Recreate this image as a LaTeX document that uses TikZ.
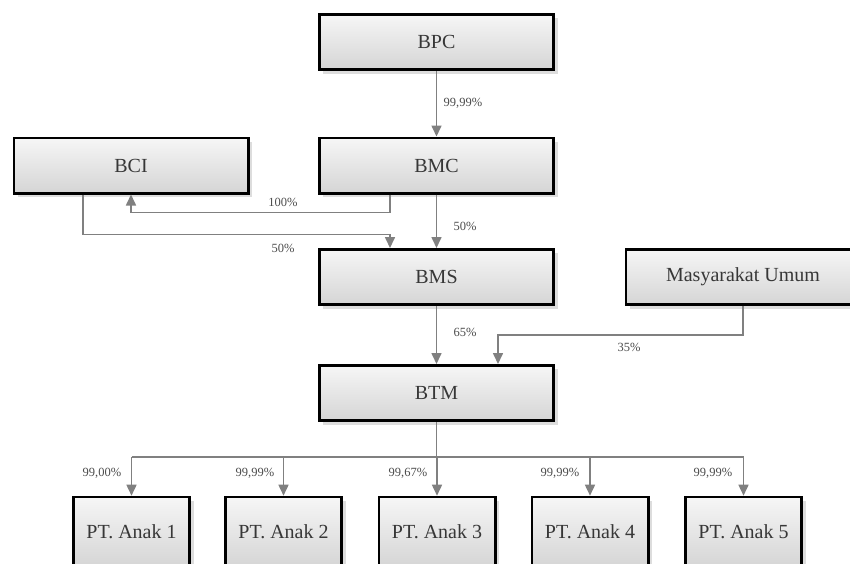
\documentclass[tikz,border=0pt]{standalone}
\usepackage{fontspec}
\setmainfont{Liberation Serif}
\usetikzlibrary{arrows.meta,calc,shadows}
\definecolor{linegray}{RGB}{128,128,128}
\definecolor{txtgray}{RGB}{55,55,55}
\begin{document}
\begin{tikzpicture}[x=1pt,y=-1pt,
  box/.style={draw=black, line width=2.6pt, top color=gray!7, bottom color=gray!33,
    minimum width=234.4pt, minimum height=55.4pt, inner sep=0pt,
    font=\fontsize{20}{23}\selectfont, text=txtgray,
    drop shadow={shadow xshift=4pt, shadow yshift=-4pt, fill=black!22, opacity=0.6}},
  ptbox/.style={box, minimum width=116.4pt, minimum height=70pt},
  conn/.style={draw=linegray, line width=1.6pt, -{Triangle[width=10pt,length=11pt]}},
  plain/.style={draw=linegray, line width=1.6pt},
  lbl/.style={font=\fontsize{12.5}{14}\selectfont, text=black!70, inner sep=0pt}]
\path[use as bounding box, clip] (0,0) rectangle (850,563);
\fill[white] (0,0) rectangle (850,563);

% boxes
\node[box] (BPC) at (436.5,42) {BPC};
\node[box] (BMC) at (436.5,165.5) {BMC};
\node[box] (BCI) at (131,165.5) {BCI};
\node[box] (BMS) at (436.5,277) {BMS};
\node[box] (MU)  at (743,277) {Masyarakat Umum};
\node[box] (BTM) at (436.5,393) {BTM};
\node[ptbox] (PT1) at (131.5,532) {PT. Anak 1};
\node[ptbox] (PT2) at (283.5,532) {PT. Anak 2};
\node[ptbox] (PT3) at (437,532) {PT. Anak 3};
\node[ptbox] (PT4) at (590,532) {PT. Anak 4};
\node[ptbox] (PT5) at (743.5,532) {PT. Anak 5};

% connectors
\draw[conn] (BPC.south) -- (BMC.north);
\draw[conn] ([xshift=-46.5pt]BMC.south) -- ++(0,18) -| (BCI.south);
\draw[conn] ([xshift=-48pt]BCI.south) -- ++(0,40) -| ([xshift=-46.5pt]BMS.north);
\draw[conn] (BMC.south) -- (BMS.north);
\draw[conn] (BMS.south) -- (BTM.north);
\draw[conn] (MU.south) -- ++(0,29) -| ([xshift=61.5pt]BTM.north);
\draw[plain] (BTM.south) -- ++(0,35) coordinate (bus);
\draw[plain] (bus -| PT1.north) -- (bus -| PT5.north);
\foreach \p in {PT1,PT2,PT3,PT4,PT5}
  \draw[conn] (bus -| \p.north) -- (\p.north);

% labels
\node[lbl] (l1) at (463,103) {99,99\%};
\node[lbl] (l2) at (283,202) {100\%};
\node[lbl] (l3) at (465,226) {50\%};
\node[lbl] (l4) at (283,248) {50\%};
\node[lbl] (l5) at (465,332) {65\%};
\node[lbl] (l6) at (629,347) {35\%};
\node[lbl] (l7) at (102,473) {99,00\%};
\node[lbl] (l8) at (255,473) {99,99\%};
\node[lbl] (l9) at (408,473) {99,67\%};
\node[lbl] (l10) at (560,473) {99,99\%};
\node[lbl] (l11) at (713,473) {99,99\%};
\end{tikzpicture}
\end{document}
